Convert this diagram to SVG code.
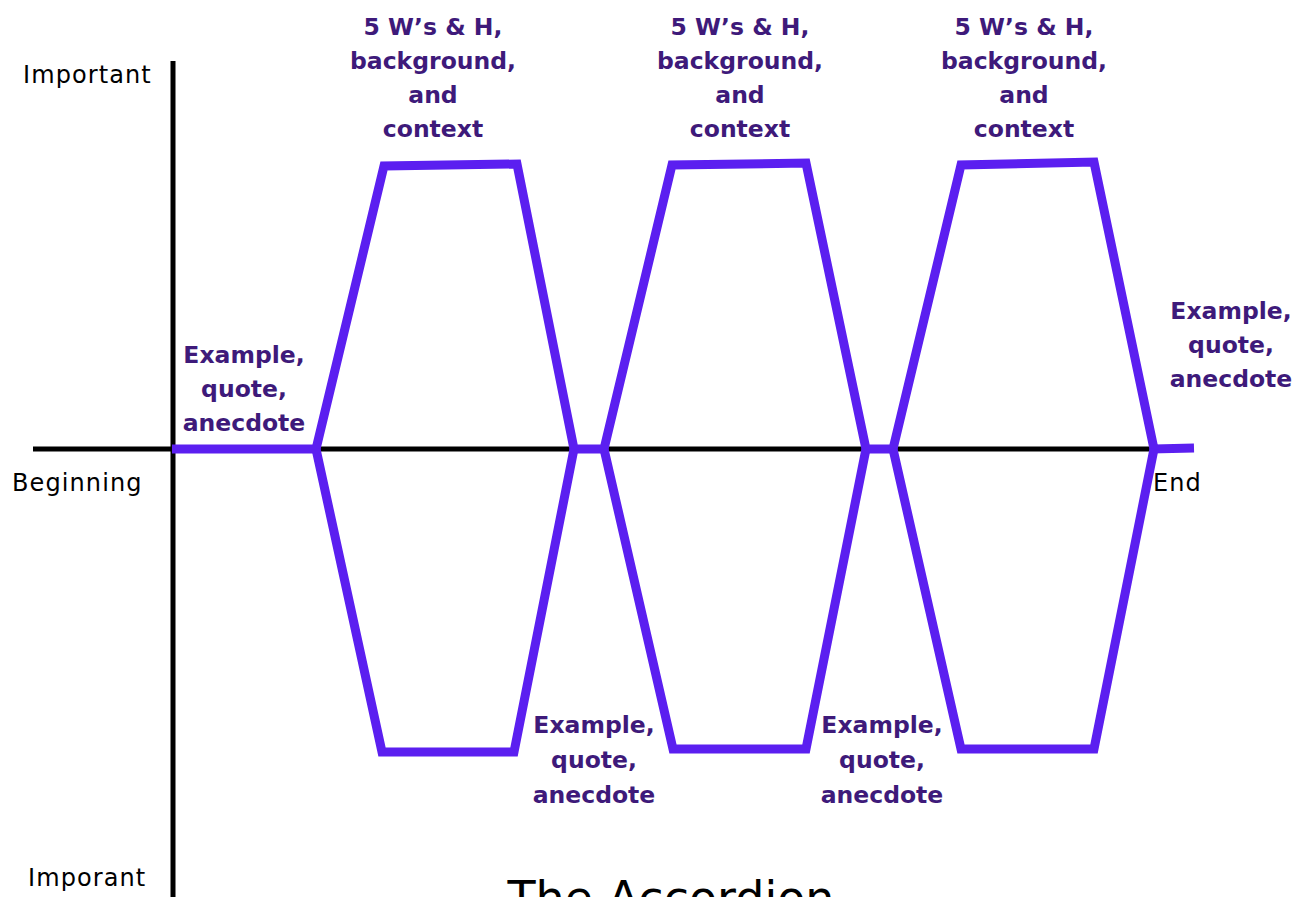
<svg xmlns="http://www.w3.org/2000/svg" width="1307" height="897" viewBox="0 0 1307 897">
<style>
.ax{stroke:#000;stroke-width:5;fill:none}
.acc{stroke:#5b1ff0;stroke-width:9;fill:none;stroke-linejoin:miter}
.lbl{font-family:"DejaVu Sans",sans-serif;font-weight:700;font-size:23.5px;fill:#3e1a7a;text-anchor:middle}
.ax-t{font-family:"DejaVu Sans",sans-serif;font-weight:400;font-size:24px;letter-spacing:1.1px;fill:#000}
.title{font-family:"DejaVu Sans",sans-serif;font-weight:400;font-size:46px;fill:#000;text-anchor:middle}
</style>
<rect width="1307" height="897" fill="#fff"/>
<g id="axes">
<line class="ax" x1="173" y1="61" x2="173" y2="897"/>
<line class="ax" x1="33" y1="449" x2="1150" y2="449"/>
</g>
<g id="connectors">
<path class="acc" d="M172,449 L316,449 L384,166 L517,164 L574,449 L604,449 L672,165 L806,163 L866,449 L893,449 L961,165 L1094,162 L1154,449 L1194,448"/>
<path class="acc" d="M316,449 L382,752 L514,752 L574,449"/>
<path class="acc" d="M604,449 L673,749 L806,749 L866,449"/>
<path class="acc" d="M893,449 L961,749 L1094,749 L1154,449"/>
</g>
<g id="axis-labels">
<text class="ax-t" x="23" y="83">Important</text>
<text class="ax-t" x="12" y="491">Beginning</text>
<text class="ax-t" x="1153" y="491">End</text>
<text class="ax-t" x="28" y="886">Imporant</text>
</g>
<g id="top1">
<text class="lbl" x="433" y="35">5 W’s &amp; H,</text>
<text class="lbl" x="433" y="69">background,</text>
<text class="lbl" x="433" y="103">and</text>
<text class="lbl" x="433" y="137">context</text>
</g>
<g id="top2">
<text class="lbl" x="740" y="35">5 W’s &amp; H,</text>
<text class="lbl" x="740" y="69">background,</text>
<text class="lbl" x="740" y="103">and</text>
<text class="lbl" x="740" y="137">context</text>
</g>
<g id="top3">
<text class="lbl" x="1024" y="35">5 W’s &amp; H,</text>
<text class="lbl" x="1024" y="69">background,</text>
<text class="lbl" x="1024" y="103">and</text>
<text class="lbl" x="1024" y="137">context</text>
</g>
<g id="ex1">
<text class="lbl" x="244" y="363">Example,</text>
<text class="lbl" x="244" y="397">quote,</text>
<text class="lbl" x="244" y="431">anecdote</text>
</g>
<g id="ex2">
<text class="lbl" x="594" y="733">Example,</text>
<text class="lbl" x="594" y="768">quote,</text>
<text class="lbl" x="594" y="803">anecdote</text>
</g>
<g id="ex3">
<text class="lbl" x="882" y="733">Example,</text>
<text class="lbl" x="882" y="768">quote,</text>
<text class="lbl" x="882" y="803">anecdote</text>
</g>
<g id="ex4">
<text class="lbl" x="1231" y="319">Example,</text>
<text class="lbl" x="1231" y="353">quote,</text>
<text class="lbl" x="1231" y="387">anecdote</text>
</g>
<g id="title">
<text class="title" x="671" y="914">The Accordion</text>
</g>
</svg>
